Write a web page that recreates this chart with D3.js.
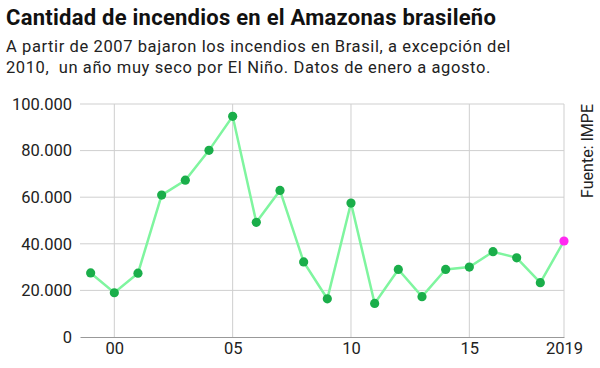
<!DOCTYPE html>
<html>
<head>
<meta charset="utf-8">
<script src="https://cdn.jsdelivr.net/npm/d3@7"></script>
<style>
  body { margin: 0; background: #fff; }
  svg text { font-family: Roboto, "Noto Sans", sans-serif; }
</style>
</head>
<body>
<div id="chart"></div>
<script>
// data
var years = [1999, 2000, 2001, 2002, 2003, 2004, 2005, 2006, 2007, 2008, 2009,
             2010, 2011, 2012, 2013, 2014, 2015, 2016, 2017, 2018, 2019];
var fires = [27500, 19000, 27400, 60900, 67300, 80100, 94700, 49200, 62900, 32200, 16400,
             57500, 14400, 29000, 17300, 29000, 30000, 36600, 34000, 23300, 41200];
var xTicks = [2000, 2005, 2010, 2015, 2019];
var xTickLabels = ["00", "05", "10", "15", "2019"];
var yTicks = [0, 20000, 40000, 60000, 80000, 100000];

var W = 600, H = 368;
var margin = { top: 104, right: 36, bottom: 31, left: 80 },
    width = W - margin.left - margin.right,
    height = H - margin.top - margin.bottom;

var svg = d3.select("#chart")
    .append("svg")
    .attr("width", W)
    .attr("height", H);

// title + subtitle
svg.append("text")
    .attr("x", 6).attr("y", 25)
    .attr("font-size", 22).attr("font-weight", 700)
    .attr("letter-spacing", "0.25")
    .attr("fill", "#111")
    .text("Cantidad de incendios en el Amazonas brasileño");
var sub = ["A partir de 2007 bajaron los incendios en Brasil, a excepción del",
           "2010,  un año muy seco por El Niño. Datos de enero a agosto."];
svg.selectAll(".sub").data(sub).enter().append("text")
    .attr("class", "sub")
    .attr("x", 6).attr("y", function (d, i) { return 52 + i * 21; })
    .attr("font-size", 16.5).attr("fill", "#222")
    .attr("letter-spacing", "0.6")
    .style("white-space", "pre")
    .text(function (d) { return d; });

var g = svg.append("g")
    .attr("transform", "translate(" + margin.left + "," + margin.top + ")");

var x = d3.scaleLinear().domain([1998.55, 2019]).range([0, width]);
var y = d3.scaleLinear().domain([0, 100000]).range([height, 0]);

// horizontal grid
g.append("g")
    .selectAll("line")
    .data(yTicks.filter(function (d) { return d > 0; }))
    .enter().append("line")
    .attr("x1", 0).attr("x2", width)
    .attr("y1", function (d) { return y(d); })
    .attr("y2", function (d) { return y(d); })
    .attr("stroke", "#cfcfcf").attr("stroke-width", 1);

// vertical grid
g.append("g")
    .selectAll("line")
    .data(xTicks)
    .enter().append("line")
    .attr("x1", function (d) { return x(d); })
    .attr("x2", function (d) { return x(d); })
    .attr("y1", 0).attr("y2", height)
    .attr("stroke", "#cfcfcf").attr("stroke-width", 1);

// y axis labels
var yAxis = d3.axisLeft(y)
    .tickValues(yTicks)
    .tickSize(0)
    .tickPadding(8)
    .tickFormat(function (d) { return d === 0 ? "0" : d3.format(",")(d).replace(/,/g, "."); });
g.append("g").call(yAxis)
    .call(function (s) { s.select(".domain").remove(); })
    .selectAll("text")
    .attr("font-size", 16.5).attr("fill", "#222")
    .attr("font-family", "Roboto, sans-serif");

// x axis
var xAxis = d3.axisBottom(x)
    .tickValues(xTicks)
    .tickSize(0)
    .tickPadding(5)
    .tickFormat(function (d, i) { return xTickLabels[i]; });
g.append("g")
    .attr("transform", "translate(0," + height + ")")
    .call(xAxis)
    .call(function (s) { s.select(".domain").attr("stroke", "#999").attr("stroke-width", 1.2); })
    .selectAll("text")
    .attr("font-size", 16.5).attr("fill", "#222")
    .attr("font-family", "Roboto, sans-serif");

// line
var pts = years.map(function (yr, i) { return { year: yr, value: fires[i] }; });
g.append("path")
    .datum(pts)
    .attr("fill", "none")
    .attr("stroke", "#7ff59f")
    .attr("stroke-width", 2.5)
    .attr("d", d3.line()
        .x(function (d) { return x(d.year); })
        .y(function (d) { return y(d.value); }));

// points
g.append("g")
    .selectAll("circle")
    .data(pts)
    .enter().append("circle")
    .attr("cx", function (d) { return x(d.year); })
    .attr("cy", function (d) { return y(d.value); })
    .attr("r", 4.6)
    .attr("fill", function (d) { return d.year === 2019 ? "#ff2af0" : "#1aae4a"; });

// source
svg.append("text")
    .attr("transform", "translate(593,104) rotate(-90)")
    .attr("text-anchor", "end")
    .attr("font-size", 16).attr("fill", "#222")
    .text("Fuente: IMPE");
</script>
</body>
</html>
